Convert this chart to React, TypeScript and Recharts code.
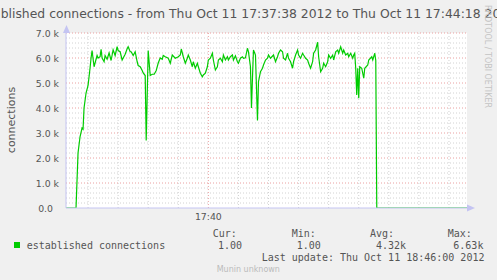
import { LineChart, Line, XAxis, YAxis, CartesianGrid, ReferenceLine } from 'recharts';

// seconds after 17:37:38
const seconds = [
  0, 10, 12, 14, 16, 17, 18, 20, 22, 24, 25, 26, 28, 31, 32, 34, 35, 36, 38, 39,
  41, 43, 45, 47, 49, 51, 52, 54, 56, 59, 61, 62, 64, 65, 67, 69, 71, 72, 74, 76,
  77, 79, 80, 82, 84, 86, 88, 90, 92, 94, 96, 97, 99, 102, 104, 106, 109, 112, 114, 115,
  117, 119, 121, 122, 124, 126, 127, 129, 131, 132, 134, 136, 137, 139, 141, 142, 144, 146, 147, 149,
  151, 152, 154, 156, 157, 159, 161, 162, 164, 166, 167, 169, 171, 172, 174, 176, 177, 179, 181, 182,
  184, 185, 186, 187, 189, 191, 192, 194, 196, 197, 199, 201, 202, 204, 207, 209, 211, 212, 214, 216,
  217, 219, 221, 222, 224, 226, 227, 229, 231, 232, 234, 236, 237, 239, 241, 242, 244, 246, 247, 249,
  251, 252, 254, 256, 257, 259, 261, 262, 264, 266, 267, 269, 271, 272, 274, 276, 277, 279, 281, 282,
  284, 286, 287, 288, 289, 290, 291, 292, 293, 295, 297, 298, 301, 302, 305, 306, 308, 309, 310, 400,
];

const established = [
  1, 1, 2200, 2850, 3200, 3150, 4000, 4600, 4900, 5600, 6000, 6300, 5650, 6100, 6000, 6050, 6350, 6000, 5850, 6100,
  5950, 6200, 5900, 6330, 6100, 6450, 6300, 6250, 5920, 6150, 6370, 6450, 6250, 6250, 6100, 6250, 5850, 5700, 5650, 5500,
  5400, 5300, 2700, 6300, 5300, 5350, 5350, 5500, 5800, 6000, 5950, 6100, 6050, 5990, 5790, 6120, 5990, 6050, 6120, 6360,
  6050, 5790, 5990, 6120, 5920, 5650, 5850, 5590, 5790, 5650, 5390, 5250, 5320, 5390, 5650, 5920, 5990, 6190, 5920, 5520,
  5650, 5920, 5990, 5850, 6120, 5920, 6050, 5920, 6050, 6120, 5920, 6090, 5850, 5790, 5990, 6050, 5990, 6010, 6390, 6250,
  5650, 4000, 5190, 6320, 6120, 3500, 5050, 5450, 5590, 5720, 5920, 5990, 6120, 5990, 6120, 5850, 6050, 6190, 6320, 6250,
  5990, 5920, 6190, 5990, 5850, 5590, 5850, 6120, 6320, 6120, 5990, 6190, 6120, 5990, 5920, 5790, 5590, 5850, 6190, 6320,
  6630, 6050, 5450, 5590, 5790, 5650, 5850, 6120, 5990, 6120, 5920, 6250, 6320, 6190, 6450, 6190, 6320, 6120, 6190, 6050,
  6190, 5990, 6120, 6190, 5590, 4520, 5590, 4390, 5650, 5590, 5190, 5590, 5720, 5920, 6050, 5920, 6190, 5900, 1, 1,
];

const yTicks = [0, 1000, 2000, 3000, 4000, 5000, 6000, 7000];
const yMinor = Array.from({ length: 36 }, (_, i) => i * 200).filter((v) => v % 1000 !== 0);
const xMajor = [142]; // 17:40:00
const xMinor = Array.from({ length: 13 }, (_, i) => 22 + i * 30).filter((t) => !xMajor.includes(t));

const statLabels = ['Cur:', 'Min:', 'Avg:', 'Max:'];
const statValues = ['1.00', '1.00', '4.32k', '6.63k'];

const startClock = 17 * 3600 + 37 * 60 + 38;
const pad = (n: number) => String(n).padStart(2, '0');
const clock = (t: number) => {
  const s = startClock + t;
  return `${pad(Math.floor(s / 3600))}:${pad(Math.floor((s % 3600) / 60))}`;
};

const data = seconds.map((t, i) => ({ t, v: established[i] }));

const GREEN = '#00cc00';
const TEXT = '#555555';
const AXIS = '#c4c4f2';
const SANS = '"DejaVu Sans", sans-serif';
const MONO = '"DejaVu Sans Mono", monospace';

function YTick({ x, y, payload }: any) {
  const v = payload.value as number;
  const label = v === 0 ? '0.0' : `${(v / 1000).toFixed(1)} k`;
  return (
    <text x={x - (v === 0 ? 13 : 7)} y={y + 3.5} textAnchor="end" fontSize={9.33} fill={TEXT} fontFamily={SANS}>
      {label}
    </text>
  );
}

function XTick({ x, y, payload }: any) {
  return (
    <text x={x} y={y + 12} textAnchor="middle" fontSize={9.33} fill={TEXT} fontFamily={SANS}>
      {clock(payload.value)}
    </text>
  );
}

export default function App() {
  const statX = [212.7, 291.7, 370, 447.7];
  const valX = [218, 296.7, 376, 453.3];
  return (
    <div style={{ position: 'absolute', left: 0, top: 0, width: 497, height: 280, background: '#f0f0f0', overflow: 'hidden' }}>
      <LineChart width={497} height={280} data={data} margin={{ top: 33, right: 30, bottom: 52, left: 0 }}>
        <CartesianGrid fill="#ffffff" stroke="none" horizontal={false} vertical={false} />
        {yMinor.map((v) => (
          <ReferenceLine key={`ym${v}`} y={v} stroke="#d2d2d2" strokeDasharray="1 2" />
        ))}
        {xMinor.map((t) => (
          <ReferenceLine key={`xm${t}`} x={t} stroke="#d2d2d2" strokeDasharray="1 2" />
        ))}
        {yTicks.slice(1).map((v) => (
          <ReferenceLine key={`yM${v}`} y={v} stroke="#eaa0a0" strokeDasharray="1 2" />
        ))}
        {xMajor.map((t) => (
          <ReferenceLine key={`xM${t}`} x={t} stroke="#eaa0a0" strokeDasharray="1 2" />
        ))}
        <XAxis
          type="number"
          dataKey="t"
          domain={[0, 400]}
          ticks={xMajor}
          height={20}
          tickSize={0}
          tickMargin={0}
          tickLine={false}
          axisLine={{ stroke: AXIS }}
          tick={<XTick />}
          allowDataOverflow
        />
        <YAxis
          type="number"
          domain={[0, 7000]}
          ticks={yTicks}
          width={66}
          tickSize={0}
          tickMargin={0}
          tickLine={false}
          axisLine={{ stroke: AXIS }}
          tick={<YTick />}
          allowDataOverflow
        />
        <Line
          type="linear"
          dataKey="v"
          stroke={GREEN}
          strokeWidth={1.2}
          dot={false}
          activeDot={false}
          isAnimationActive={false}
        />
      </LineChart>
      <svg width={497} height={280} style={{ position: 'absolute', left: 0, top: 0, pointerEvents: 'none' }}>
        <text x={245} y={17.5} textAnchor="middle" fontSize={12.4} fill={TEXT} fontFamily={SANS}>
          Established connections - from Thu Oct 11 17:37:38 2012 to Thu Oct 11 17:44:18 2012
        </text>
        <text transform="translate(15,120) rotate(-90)" textAnchor="middle" fontSize={11} fill={TEXT} fontFamily={SANS}>
          connections
        </text>
        <text transform="translate(485,5) rotate(90)" fontSize={8} fill="#c4c4c4" fontFamily={SANS}>
          RRDTOOL / TOBI OETIKER
        </text>
        <polygon points="63,33 66.5,25 70,33" fill={AXIS} />
        <polygon points="467,204.5 475,208 467,211.5" fill={AXIS} />
        <rect x={14} y={242} width={6} height={6} fill={GREEN} />
        <text x={26.7} y={249} fontSize={10} fill={TEXT} fontFamily={MONO}>
          established connections
        </text>
        {statLabels.map((s, i) => (
          <text key={s} x={statX[i]} y={237} fontSize={10} fill={TEXT} fontFamily={MONO}>
            {s}
          </text>
        ))}
        {statValues.map((s, i) => (
          <text key={i} x={valX[i]} y={249} fontSize={10} fill={TEXT} fontFamily={MONO}>
            {s}
          </text>
        ))}
        <text x={261.7} y={261} fontSize={10} fill={TEXT} fontFamily={MONO}>
          Last update: Thu Oct 11 18:46:00 2012
        </text>
        <text x={216.7} y={272} fontSize={8} fill="#bbbbbb" fontFamily={SANS}>
          Munin unknown
        </text>
      </svg>
    </div>
  );
}
